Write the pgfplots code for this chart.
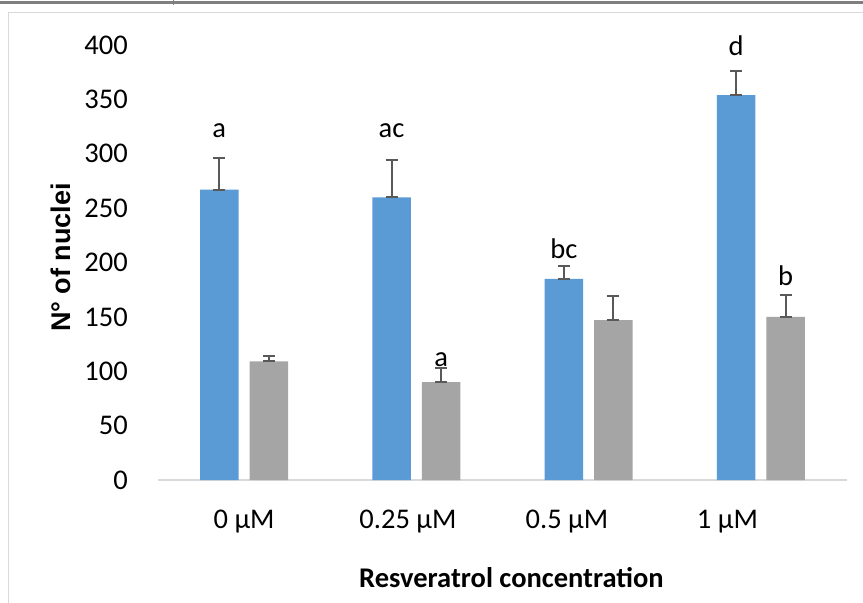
\documentclass[border=0pt]{standalone}
\usepackage{fontspec}
\setmainfont{Carlito}
\newfontfamily\arialfont{Liberation Sans}
\usepackage{pgfplots}
\pgfplotsset{compat=1.18}
\usepackage{pgfplotstable}
\definecolor{xlblue}{HTML}{5B9BD5}
\definecolor{xlgray}{HTML}{A5A5A5}
\definecolor{errc}{HTML}{595959}
\definecolor{axc}{HTML}{D9D9D9}
\definecolor{topc}{HTML}{7F7F7F}

\pgfplotstableread{
x y ep em
0 267 29 0
1 260 34 0
2 185 12 0
3 354 22 0
}\blueT
\pgfplotstableread{
x y ep em
0 109 5 0
1 90 13 0
2 147 22 0
3 150 20 0
}\grayT

\begin{document}
\begin{tikzpicture}[x=1pt,y=1pt]
\path[use as bounding box] (0,0) rectangle (863,603);
\fill[white] (0,0) rectangle (863,603);
\draw[axc, line width=1.2pt] (8.5,-5) -- (8.5,590.5) -- (870,590.5);
\draw[topc, line width=3pt] (0,600.5) -- (863,600.5);
\draw[topc, line width=1pt] (173,603) -- (173,598);
\begin{axis}[
  at={(158pt,123pt)}, anchor=south west,
  scale only axis, width=689pt, height=435pt,
  xmin=-0.5, xmax=3.5, ymin=0, ymax=400,
  ytick={0,50,...,400},
  xtick={0,0.951,1.874,2.806},
  xticklabels={0 µM, 0.25 µM, 0.5 µM, 1 µM},
  axis x line*=bottom, axis y line*=left,
  y axis line style={draw=none},
  x axis line style={axc, line width=1.5pt, -},
  major tick length=0pt,
  ybar, bar width=38.5pt,
  font=\fontsize{28.5}{34}\selectfont,
  tick label style={font=\fontsize{28.5}{34}\selectfont},
  /pgf/number format/assume math mode=true,
  yticklabel style={anchor=east, inner sep=0pt, xshift=-30pt},
  xticklabel style={anchor=base, inner sep=0pt, yshift=-48pt},
  xlabel={Resveratrol concentration},
  xlabel style={at={(rel axis cs:0.513,0)}, anchor=base, yshift=-107pt, inner sep=0pt, font=\fontsize{28.5}{34}\selectfont\bfseries},
  ylabel={N° of nuclei},
  ylabel style={at={(rel axis cs:-0.1277,0.5115)}, anchor=base, inner sep=0pt, font=\fontsize{27}{32}\selectfont\arialfont\bfseries},
  clip=false,
]
\addplot+[ybar, bar shift=-24.75pt, fill=xlblue, draw=none,
  error bars/.cd, y dir=both, y explicit,
  error bar style={errc, line width=2pt},
  error mark options={errc, line width=2pt, mark size=6pt, rotate=90}]
  table[x=x, y=y, y error plus=ep, y error minus=em] {\blueT};
\addplot+[ybar, bar shift=24.75pt, fill=xlgray, draw=none,
  error bars/.cd, y dir=both, y explicit,
  error bar style={errc, line width=2pt},
  error mark options={errc, line width=2pt, mark size=6pt, rotate=90}]
  table[x=x, y=y, y error plus=ep, y error minus=em] {\grayT};
\node[anchor=base, inner sep=0pt] at (axis cs:-0.144,315.4) {a};
\node[anchor=base, inner sep=0pt] at (axis cs:0.856,315.4) {ac};
\node[anchor=base, inner sep=0pt] at (axis cs:1.856,204.1) {bc};
\node[anchor=base, inner sep=0pt] at (axis cs:2.856,390.8) {d};
\node[anchor=base, inner sep=0pt] at (axis cs:1.144,104.8) {a};
\node[anchor=base, inner sep=0pt] at (axis cs:3.144,178.4) {b};
\end{axis}
\end{tikzpicture}
\end{document}
